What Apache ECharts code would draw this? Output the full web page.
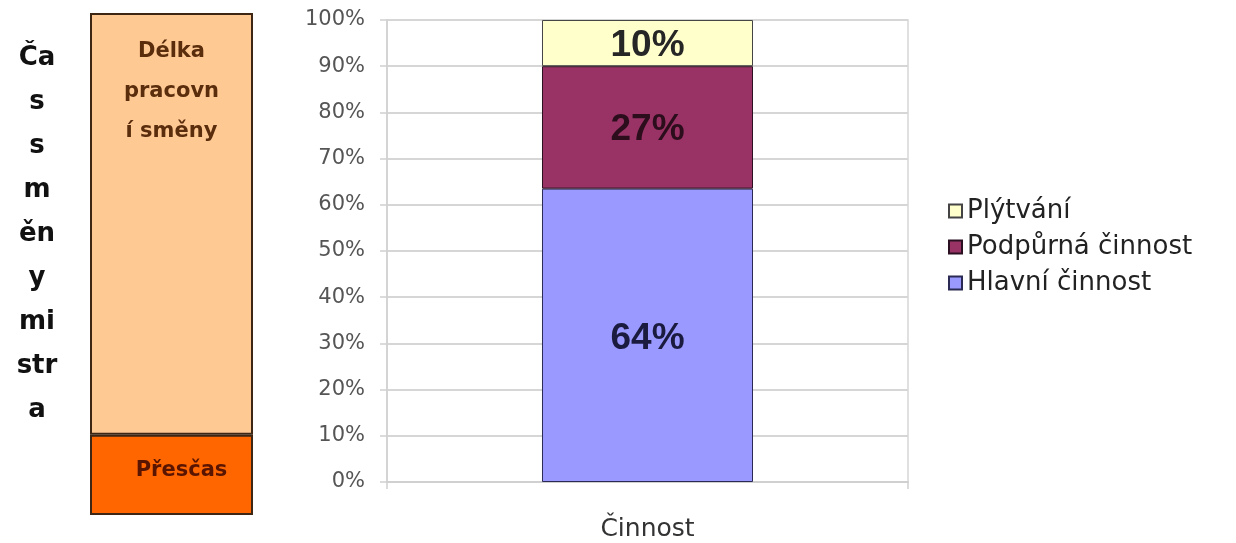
<!DOCTYPE html>
<html>
<head>
<meta charset="utf-8">
<script src="https://cdn.jsdelivr.net/npm/echarts@6/dist/echarts.min.js"></script>
<style>
html,body{margin:0;padding:0;background:#fff;}
#chart{width:1236px;height:543px;}
</style>
</head>
<body>
<div id="chart"></div>
<script>
// ---- data ----
var categories = ['Činnost'];
var hlavniCinnost = [63.5];
var podpurnaCinnost = [26.5];
var plytvani = [10];
var yTickLabels = ['0%','10%','20%','30%','40%','50%','60%','70%','80%','90%','100%'];

var shiftCategories = ['Čas směny mistra'];
var prescas = [16];
var delkaSmeny = [84];
var sideTitleLines = ['Ča','s','s','m','ěn','y','mi','str','a'];
var delkaLabelLines = ['Délka','pracovn','í směny'];

var chart = echarts.init(document.getElementById('chart'));

function pctLabel(p){ return Math.round(p.value) + '%'; }

var option = {
  backgroundColor: '#ffffff',
  animation: false,
  graphic: [{
    type: 'text',
    x: 37,
    y: 36,
    style: {
      text: sideTitleLines.join('\n'),
      font: 'bold 26px "DejaVu Sans"',
      fill: '#111111',
      lineHeight: 44,
      align: 'center',
      textAlign: 'center',
      verticalAlign: 'top',
      textVerticalAlign: 'top'
    }
  }],
  legend: {
    orient: 'vertical',
    left: 943,
    top: 193,
    itemWidth: 13,
    itemHeight: 13,
    itemGap: 10,
    icon: 'rect',
    data: ['Plýtvání', 'Podpůrná činnost', 'Hlavní činnost'],
    textStyle: { fontFamily: 'DejaVu Sans', fontSize: 26, lineHeight: 26, color: '#222' }
  },
  grid: [
    { left: 90, top: 13, width: 163, height: 502, containLabel: false },
    { left: 387, right: 328, top: 20, bottom: 61, show: true, borderColor: '#d6d6d6', borderWidth: 1.5, containLabel: false }
  ],
  xAxis: [
    { type: 'category', gridIndex: 0, data: shiftCategories, show: false },
    {
      type: 'category', gridIndex: 1, data: categories,
      axisLine: { show: true, lineStyle: { color: '#d0d0d0', width: 2 } },
      axisTick: { show: true, length: 7, lineStyle: { color: '#d0d0d0', width: 1.5 } },
      axisLabel: { margin: 35, fontFamily: 'DejaVu Sans', fontSize: 25, color: '#333' }
    }
  ],
  yAxis: [
    { type: 'value', gridIndex: 0, min: 0, max: 100, show: false },
    {
      type: 'value', gridIndex: 1, min: 0, max: 100, interval: 10,
      axisLine: { show: true, lineStyle: { color: '#d0d0d0', width: 1.5 } },
      axisTick: { show: true, length: 7, lineStyle: { color: '#d0d0d0', width: 1.5 } },
      splitLine: { show: true, lineStyle: { color: '#d6d6d6', width: 2 } },
      axisLabel: {
        margin: 22, fontFamily: 'DejaVu Sans', fontSize: 21, color: '#555',
        formatter: function(v){ return yTickLabels[Math.round(v/10)]; }
      }
    }
  ],
  series: [
    {
      name: 'Přesčas', type: 'bar', stack: 'shift', xAxisIndex: 0, yAxisIndex: 0,
      data: prescas, barWidth: '100%',
      itemStyle: { color: '#FF6600', borderColor: '#3d2614', borderWidth: 2 },
      label: {
        show: true, position: 'inside', offset: [10, -4],
        formatter: 'Přesčas',
        fontFamily: 'DejaVu Sans', fontWeight: 'bold', fontSize: 21, color: '#5a1500'
      }
    },
    {
      name: 'Délka pracovní směny', type: 'bar', stack: 'shift', xAxisIndex: 0, yAxisIndex: 0,
      data: delkaSmeny, barWidth: '100%',
      itemStyle: { color: '#FFC994', borderColor: '#3d2614', borderWidth: 2 },
      label: {
        show: true, position: 'insideTop', distance: 19,
        formatter: delkaLabelLines.join('\n'),
        lineHeight: 40,
        fontFamily: 'DejaVu Sans', fontWeight: 'bold', fontSize: 21, color: '#5a2d0c'
      }
    },
    {
      name: 'Hlavní činnost', type: 'bar', stack: 'act', xAxisIndex: 1, yAxisIndex: 1,
      data: hlavniCinnost, barWidth: '40.5%',
      itemStyle: { color: '#9999FF', borderColor: '#2a2a55', borderWidth: 1 },
      label: { show: true, position: 'inside', offset: [0, 3], formatter: pctLabel,
        fontFamily: 'Liberation Sans', fontWeight: 'bold', fontSize: 37, color: '#1b1b40' }
    },
    {
      name: 'Podpůrná činnost', type: 'bar', stack: 'act', xAxisIndex: 1, yAxisIndex: 1,
      data: podpurnaCinnost,
      itemStyle: { color: '#993366', borderColor: '#2a1020', borderWidth: 1 },
      label: { show: true, position: 'inside', offset: [0, 2], formatter: pctLabel,
        fontFamily: 'Liberation Sans', fontWeight: 'bold', fontSize: 37, color: '#2b0d1c' }
    },
    {
      name: 'Plýtvání', type: 'bar', stack: 'act', xAxisIndex: 1, yAxisIndex: 1,
      data: plytvani,
      itemStyle: { color: '#FFFFCC', borderColor: '#444444', borderWidth: 1 },
      label: { show: true, position: 'inside', offset: [0, 3], formatter: pctLabel,
        fontFamily: 'Liberation Sans', fontWeight: 'bold', fontSize: 37, color: '#262626' }
    }
  ]
};
chart.setOption(option);
</script>
</body>
</html>
